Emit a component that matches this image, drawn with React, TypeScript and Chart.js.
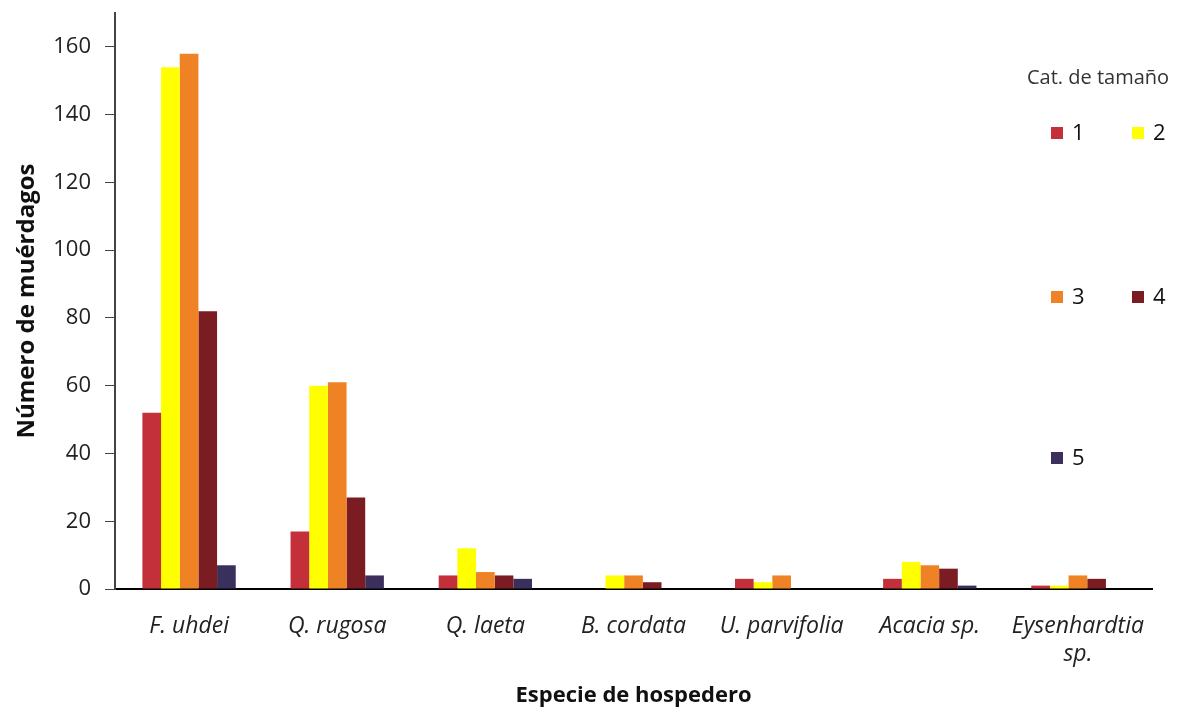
import React, { useEffect, useRef } from "react";
import { Chart, registerables } from "chart.js";

Chart.register(...registerables);

const categories: (string | string[])[] = [
  "F. uhdei",
  "Q. rugosa",
  "Q. laeta",
  "B. cordata",
  "U. parvifolia",
  "Acacia sp.",
  ["Eysenhardtia", "sp."],
];

const seriesNames = ["1", "2", "3", "4", "5"];
const cat1 = [52, 17, 4, 0, 3, 3, 1];
const cat2 = [154, 60, 12, 4, 2, 8, 1];
const cat3 = [158, 61, 5, 4, 4, 7, 4];
const cat4 = [82, 27, 4, 2, 0, 6, 3];
const cat5 = [7, 4, 3, 0, 0, 1, 0];
const seriesColors = ["#C3303A", "#FFFF00", "#EF8224", "#7A1C22", "#3B2F5C"];
const yTicks = [0, 20, 40, 60, 80, 100, 120, 140, 160];

const FONT = "'Open Sans', Lato, sans-serif";

export default function App() {
  const ref = useRef<HTMLCanvasElement | null>(null);

  useEffect(() => {
    document.body.style.margin = "0";
    const canvas = ref.current;
    if (!canvas) return;
    const series = [cat1, cat2, cat3, cat4, cat5];

    const legendPlugin = {
      id: "customLegend",
      afterDraw(chart: any) {
        const ctx = chart.ctx;
        ctx.save();
        ctx.fillStyle = "#333333";
        ctx.font = `20px ${FONT}`;
        ctx.textAlign = "center";
        ctx.textBaseline = "middle";
        ctx.fillText("Cat. de tamaño", 1098, 78);
        const pos = [
          [1051, 133],
          [1132, 133],
          [1051, 297],
          [1132, 297],
          [1051, 458],
        ];
        ctx.font = `22px ${FONT}`;
        ctx.textAlign = "left";
        seriesNames.forEach((n, i) => {
          const [x, y] = pos[i];
          ctx.fillStyle = seriesColors[i];
          ctx.fillRect(x, y - 6, 12, 12);
          ctx.fillStyle = "#111111";
          ctx.fillText(n, x + 21, y + 1);
        });
        ctx.restore();
      },
    };

    const chart = new Chart(canvas, {
      type: "bar",
      data: {
        labels: categories,
        datasets: series.map((d, i) => ({
          label: seriesNames[i],
          data: d,
          backgroundColor: seriesColors[i],
          borderWidth: 0,
          categoryPercentage: 0.63,
          barPercentage: 1,
        })),
      },
      options: {
        animation: false,
        responsive: false,
        maintainAspectRatio: false,
        layout: { padding: { top: 13, right: 41, left: 0, bottom: 0 } },
        plugins: {
          legend: { display: false },
          tooltip: { enabled: false },
        },
        scales: {
          x: {
            grid: { display: false },
            border: { display: true, color: "#000000", width: 2 },
            ticks: {
              color: "#222222",
              font: { family: FONT, size: 23, style: "italic" },
              padding: 16,
              maxRotation: 0,
              autoSkip: false,
            },
            title: {
              display: true,
              text: "Especie de hospedero",
              color: "#111111",
              font: { family: FONT, size: 22, weight: "bold" },
              padding: { top: 0, bottom: 10 },
            },
            afterFit(scale: any) {
              scale.height = 130;
            },
          },
          y: {
            min: 0,
            max: 170,
            afterBuildTicks(axis: any) {
              axis.ticks = yTicks.map((v) => ({ value: v }));
            },
            grid: {
              display: true,
              drawOnChartArea: false,
              drawTicks: true,
              tickLength: 10,
              color: "#444444",
            },
            border: { display: true, color: "#444444", width: 2 },
            ticks: {
              color: "#222222",
              font: { family: FONT, size: 22 },
              padding: 14,
            },
            title: {
              display: true,
              text: "Número de muérdagos",
              color: "#111111",
              font: { family: FONT, size: 24, weight: "bold" },
              padding: { top: 13, bottom: 0 },
            },
            afterFit(scale: any) {
              scale.width = 115;
              scale.paddingTop = 0;
              scale.paddingBottom = 0;
            },
          },
        },
      },
      plugins: [legendPlugin],
    });
    return () => chart.destroy();
  }, []);

  return (
    <div style={{ position: "absolute", left: 0, top: 0, width: 1193, height: 719, background: "#ffffff" }}>
      <canvas ref={ref} width={1193} height={719} style={{ display: "block" }} />
    </div>
  );
}
